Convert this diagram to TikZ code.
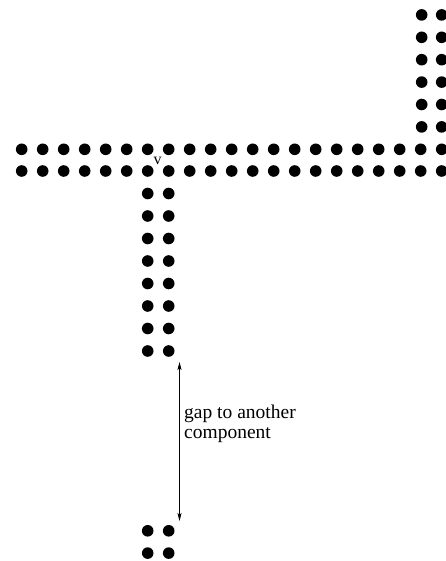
\documentclass[tikz,border=0pt]{standalone}
\usepackage{fontspec}
\setmainfont{Liberation Serif}
\usetikzlibrary{arrows.meta}

\begin{document}
\begin{tikzpicture}[x=1pt, y=-1pt,
  dot/.style={circle, fill=black, inner sep=0pt, minimum size=11.6pt},
  vlabel/.style={font=\fontsize{16}{17}\selectfont, inner sep=0pt},
  gaplabel/.style={font=\fontsize{19.5}{20.5}\selectfont, align=left, anchor=north west, inner sep=0pt}]
\useasboundingbox (0,0) rectangle (445,561);

% horizontal band, two rows
\foreach \i in {1,...,21} {
  \node[dot] (upper-\i) at ({21.7+21*(\i-1)}, 149.3) {};
  \node[dot] (lower-\i) at ({21.7+21*(\i-1)}, 171) {};
}

% column going up on the right
\foreach \k in {1,...,6} {
  \node[dot] (rightA-\k) at (421.7, {149.3-22.4*\k}) {};
  \node[dot] (rightB-\k) at (441.7, {149.3-22.4*\k}) {};
}

% column going down under v
\foreach \k in {1,...,8} {
  \node[dot] (downA-\k) at (147.7, {171+22.5*\k}) {};
  \node[dot] (downB-\k) at (168.7, {171+22.5*\k}) {};
}

% the other component
\foreach \k in {1,2} {
  \node[dot] (otherA-\k) at (147.7, {508.5+22.3*\k}) {};
  \node[dot] (otherB-\k) at (168.7, {508.5+22.3*\k}) {};
}

\node[vlabel] (v) at (157.5, 160.5) {v};

% gap arrow
\coordinate (gaptop) at (179.5, 362);
\coordinate (gapbot) at (179.5, 521);
\draw[{Stealth[length=8pt,width=4pt,inset=2pt]}-{Stealth[length=8pt,width=4pt,inset=2pt]}, line width=0.7pt] (gaptop) -- (gapbot);

\node[gaplabel] (gap) at (184, 404.5) {gap to another\\component};

\end{tikzpicture}
\end{document}
